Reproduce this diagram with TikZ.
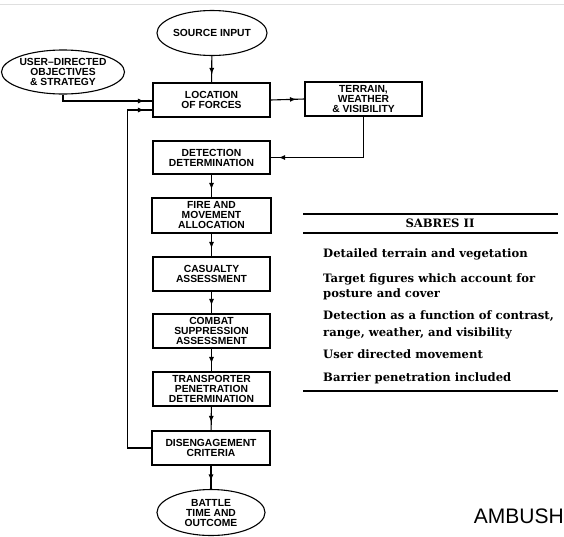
\documentclass[tikz,border=0pt]{standalone}
\usepackage{fontspec}
\usetikzlibrary{shapes.geometric,arrows.meta,decorations.markings,calc}
\newfontfamily\boxfont{Liberation Sans}
\newfontfamily\tabfont{DejaVu Serif}
\newfontfamily\bigfont{Liberation Sans}

\tikzset{
  flowbox/.style={draw, line width=1.1pt, rectangle, minimum width=117pt, minimum height=34pt,
    inner sep=1pt, align=center, font=\boxfont\bfseries\fontsize{10.3}{10}\selectfont},
  terminal/.style={draw, line width=1.1pt, ellipse, inner sep=0pt, align=center,
    font=\boxfont\bfseries\fontsize{10.3}{10}\selectfont},
  flow/.style={line width=1.1pt, postaction={decorate},
    decoration={markings, mark=at position -8pt with {\arrow{Latex[length=6.5pt,width=5pt]}}}},
  item/.style={anchor=base west, inner sep=0pt, font=\tabfont\bfseries\fontsize{11.6}{14}\selectfont, align=left},
  rule/.style={line width=1.2pt}
}

\begin{document}
\begin{tikzpicture}[x=1pt,y=-1pt]
\useasboundingbox (0,0) rectangle (564,536);
\fill[white] (0,0) rectangle (564,536);
% faint page edge at the top
\draw[gray!25, line width=1pt] (0,4) -- (564,4);

% terminals
\node[terminal, minimum width=110pt, minimum height=45pt] (src) at (212,33) {SOURCE INPUT};
\node[terminal, minimum width=110pt, minimum height=44pt] (usr) at (63,72) {USER\textendash DIRECTED\\OBJECTIVES\\\& STRATEGY};
\node[terminal, minimum width=108pt, minimum height=46pt] (bat) at (211,512.5) {BATTLE\\TIME AND\\OUTCOME};

% process boxes
\node[flowbox] (loc) at (211.5,100) {LOCATION\\OF FORCES};
\node[flowbox] (ter) at (363.5,99) {TERRAIN,\\WEATHER\\\& VISIBILITY};
\node[flowbox, minimum height=33pt] (det) at (211.5,157.5) {DETECTION\\DETERMINATION};
\node[flowbox, minimum width=119pt, minimum height=35pt] (fire) at (211.5,215.5) {FIRE AND\\MOVEMENT\\ALLOCATION};
\node[flowbox] (cas) at (211.5,274) {CASUALTY\\ASSESSMENT};
\node[flowbox] (sup) at (211.5,331) {COMBAT\\SUPPRESSION\\ASSESSMENT};
\node[flowbox] (tra) at (211.5,389) {TRANSPORTER\\PENETRATION\\DETERMINATION};
\node[flowbox, minimum width=118pt] (dis) at (211,448) {DISENGAGEMENT\\CRITERIA};

% main chain
\draw[flow] (src) -- (loc);
\draw[flow] (det) -- (fire);
\draw[flow] (fire) -- (cas);
\draw[flow] (cas) -- (sup);
\draw[flow] (sup) -- (tra);
\draw[flow] (tra) -- (dis);
\draw[flow] (dis) -- (bat);

% side inputs
\draw[flow] (usr.south) |- ($(loc.west)+(0,1)$);
\draw[flow] (loc.east) -- (ter.west);
\coordinate (terdrop) at (ter.south |- det.east);
\draw[flow] (ter.south) -- (terdrop) -- (det.east);

% feedback loop
\coordinate (fbcorner) at ($(dis.west)+(-24,0)$);
\draw[flow] (dis.west) -- (fbcorner) |- ($(loc.west)+(0,10)$);

% feature table
\draw[rule] (303,214) -- (558,214);
\draw[rule] (303,233) -- (558,233);
\draw[rule] (303,391) -- (558,391);
\node[font=\tabfont\bfseries\fontsize{11.6}{14}\selectfont, inner sep=0pt] (title) at (440,223.5) {SABRES II};
\node[item] (i1) at (323,257) {Detailed terrain and vegetation};
\node[item] (i2) at (323,282) {Target figures which account for};
\node[item] (i2b) at (323,297) {posture and cover};
\node[item] (i3) at (323,319) {Detection as a function of contrast,};
\node[item] (i3b) at (323,336) {range, weather, and visibility};
\node[item] (i4) at (323,358) {User directed movement};
\node[item] (i5) at (323,381) {Barrier penetration included};

% caption
\node[anchor=base east, inner sep=0pt, font=\bigfont\fontsize{21}{24}\selectfont] (cap) at (564,523) {AMBUSH};
\end{tikzpicture}
\end{document}
